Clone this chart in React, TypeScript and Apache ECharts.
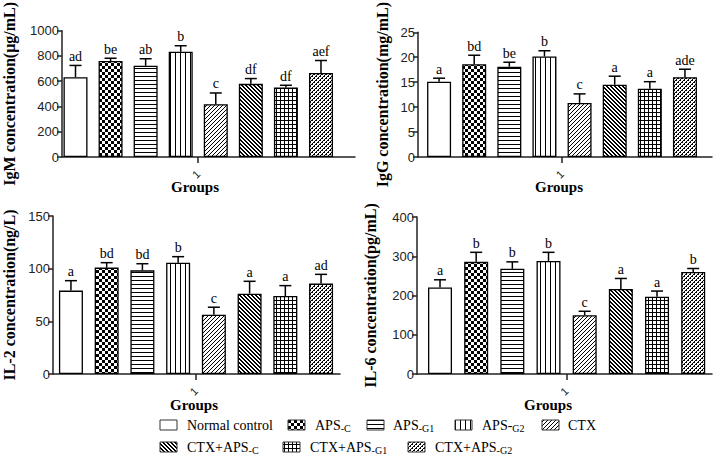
import React, { useEffect, useRef } from "react";
import * as echarts from "echarts";

// ---------------- data ----------------
const categories = [
  "Normal control",
  "APS-C",
  "APS-G1",
  "APS-G2",
  "CTX",
  "CTX+APS-C",
  "CTX+APS-G1",
  "CTX+APS-G2",
];
const positions = [1, 2, 3, 4, 5, 6, 7, 8];

const igmMean = [632, 760, 722, 833, 418, 579, 551, 665];
const igmErr = [93, 22, 56, 48, 89, 42, 17, 99];
const igmLetters = ["ad", "be", "ab", "b", "c", "df", "df", "aef"];

const iggMean = [15.1, 18.6, 18.1, 20.15, 10.85, 14.5, 13.7, 16.0];
const iggErr = [0.7, 1.8, 0.9, 1.15, 1.8, 1.7, 1.4, 1.6];
const iggLetters = ["a", "bd", "be", "b", "c", "a", "a", "ade"];

const il2Mean = [79.2, 101, 98.4, 105.7, 56.2, 76.3, 74.1, 85.8];
const il2Err = [9.4, 4.7, 6.3, 5.7, 7.2, 11.7, 9.8, 8.8];
const il2Letters = ["a", "bd", "bd", "b", "c", "a", "a", "ad"];

const il6Mean = [220.6, 285.7, 268, 288, 149.6, 216.4, 197, 260];
const il6Err = [19.4, 24.3, 17.7, 22, 10.2, 27, 14.3, 8.8];
const il6Letters = ["a", "b", "b", "b", "c", "a", "a", "b"];

const groupTickValue = [4.5];
const groupTickLabel = "1";
const xAxisTitle = "Groups";

// ---------------- patterns ----------------
type Px = (x: number, y: number, w?: number, h?: number) => void;
function makePattern(size: number, draw: (px: Px) => void): any {
  const c = document.createElement("canvas");
  c.width = size;
  c.height = size;
  const ctx = c.getContext("2d")!;
  ctx.fillStyle = "#fff";
  ctx.fillRect(0, 0, size, size);
  ctx.fillStyle = "#000";
  draw((x, y, w = 1, h = 1) => ctx.fillRect(x, y, w, h));
  return { image: c, repeat: "repeat", imageWidth: size, imageHeight: size };
}

function buildPatterns(): any[] {
  return [
    "#ffffff",
    makePattern(6, (px) => {
      px(0, 0, 3, 3);
      px(3, 3, 3, 3);
    }),
    makePattern(4, (px) => px(0, 0, 4, 1)),
    makePattern(5, (px) => px(0, 0, 1, 5)),
    makePattern(4, (px) => {
      for (let i = 0; i < 4; i++) px(i, 3 - i);
    }),
    makePattern(4, (px) => {
      for (let i = 0; i < 4; i++) {
        px(i, i);
        px((i + 1) % 4, i);
      }
    }),
    makePattern(4, (px) => {
      px(0, 0, 4, 1);
      px(0, 0, 1, 4);
    }),
    makePattern(4, (px) => {
      for (let i = 0; i < 4; i++) px(i, 3 - i);
      px(0, 0);
      px(2, 2);
    }),
  ];
}

// ---------------- panels ----------------
type Panel = {
  mean: number[];
  err: number[];
  letters: string[];
  yName: string;
  yMax: number;
  yInterval: number;
  grid: { left: number; top: number; width: number; height: number };
  xMin: number;
  xMax: number;
  nameGap: number;
};

const panels: Panel[] = [
  {
    mean: igmMean,
    err: igmErr,
    letters: igmLetters,
    yName: "IgM concentration(μg/mL)",
    yMax: 1000,
    yInterval: 200,
    grid: { left: 62, top: 6, width: 293, height: 151 },
    xMin: 0.615,
    xMax: 8.97,
    nameGap: 45,
  },
  {
    mean: iggMean,
    err: iggErr,
    letters: iggLetters,
    yName: "IgG concentration(mg/mL)",
    yMax: 25,
    yInterval: 5,
    grid: { left: 418, top: 6, width: 294, height: 151 },
    xMin: 0.4,
    xMax: 8.77,
    nameGap: 28,
  },
  {
    mean: il2Mean,
    err: il2Err,
    letters: il2Letters,
    yName: "IL-2 concentration(ng/L)",
    yMax: 150,
    yInterval: 50,
    grid: { left: 52, top: 216, width: 288, height: 158 },
    xMin: 0.498,
    xMax: 8.53,
    nameGap: 36,
  },
  {
    mean: il6Mean,
    err: il6Err,
    letters: il6Letters,
    yName: "IL-6 concentration(pg/mL)",
    yMax: 400,
    yInterval: 100,
    grid: { left: 417, top: 217, width: 295, height: 157 },
    xMin: 0.364,
    xMax: 8.52,
    nameGap: 39,
  },
];

const groupTitlePos = [
  [195, 187],
  [559, 187],
  [194, 405],
  [548, 405],
];

const legendItems = [
  { icon: [160, 425], text: [187, 425], main: "Normal control", sub: "" },
  { icon: [288, 425], text: [315, 425], main: "APS", sub: "-C" },
  { icon: [367, 425], text: [393, 425], main: "APS", sub: "-G1" },
  { icon: [455, 425], text: [482, 425], main: "APS-", sub: "G2" },
  { icon: [542, 425], text: [568, 425], main: "CTX", sub: "" },
  { icon: [160, 447], text: [187, 447], main: "CTX+APS", sub: "-C" },
  { icon: [283, 447], text: [310, 447], main: "CTX+APS", sub: "-G1" },
  { icon: [408, 447], text: [435, 447], main: "CTX+APS", sub: "-G2" },
];

const AXIS_COLOR = "#222";

export default function App() {
  const ref = useRef<HTMLDivElement>(null);

  useEffect(() => {
    if (!ref.current) return;
    const chart = echarts.init(ref.current, null, { renderer: "svg" });
    const patterns = buildPatterns();

    const grids: any[] = [];
    const xAxes: any[] = [];
    const yAxes: any[] = [];
    const series: any[] = [];

    panels.forEach((p, gi) => {
      grids.push({ ...p.grid, containLabel: false });
      xAxes.push({
        type: "value",
        gridIndex: gi,
        min: p.xMin,
        max: p.xMax,
        splitLine: { show: false },
        axisLine: { show: true, onZero: false, lineStyle: { color: AXIS_COLOR, width: 1.5 } },
        axisTick: {
          show: true,
          customValues: groupTickValue,
          length: 6,
          lineStyle: { color: AXIS_COLOR, width: 1.5 },
        },
        axisLabel: {
          show: true,
          customValues: groupTickValue,
          formatter: () => groupTickLabel,
          rotate: 45,
          margin: 15,
          fontFamily: "Liberation Sans",
          fontSize: 11,
          color: "#222",
        },
      });
      yAxes.push({
        type: "value",
        gridIndex: gi,
        min: 0,
        max: p.yMax,
        interval: p.yInterval,
        name: p.yName,
        nameLocation: "middle",
        nameGap: p.nameGap,
        nameTextStyle: {
          fontFamily: "Liberation Serif",
          fontWeight: "bold",
          fontSize: 16,
          color: "#000",
        },
        splitLine: { show: false },
        axisLine: { show: true, lineStyle: { color: AXIS_COLOR, width: 1.5 } },
        axisTick: { show: true, length: 5, lineStyle: { color: AXIS_COLOR, width: 1.5 } },
        axisLabel: {
          fontFamily: "Liberation Sans",
          fontSize: 13,
          color: "#222",
          margin: 3,
          formatter: (v: number) => String(v),
        },
      });
      series.push({
        type: "bar",
        xAxisIndex: gi,
        yAxisIndex: gi,
        barWidth: 24,
        data: positions.map((x, i) => ({
          value: [x, p.mean[i]],
          itemStyle: { color: patterns[i] },
        })),
        itemStyle: { borderColor: "#000", borderWidth: 1.3 },
      });
      const letters = p.letters;
      series.push({
        type: "custom",
        xAxisIndex: gi,
        yAxisIndex: gi,
        z: 5,
        data: positions.map((x, i) => [x, p.mean[i], p.err[i]]),
        renderItem: (params: any, api: any) => {
          const x = api.value(0);
          const m = api.value(1);
          const e = api.value(2);
          const b = api.coord([x, m]);
          const t = api.coord([x, m + e]);
          const half = 6;
          return {
            type: "group",
            children: [
              {
                type: "line",
                shape: { x1: b[0], y1: b[1], x2: t[0], y2: t[1] },
                style: { stroke: "#000", lineWidth: 1.5 },
              },
              {
                type: "line",
                shape: { x1: t[0] - half, y1: t[1], x2: t[0] + half, y2: t[1] },
                style: { stroke: "#000", lineWidth: 1.5 },
              },
              {
                type: "text",
                x: t[0],
                y: t[1] - 2,
                style: {
                  text: letters[params.dataIndex],
                  align: "center",
                  verticalAlign: "bottom",
                  fontFamily: "Liberation Serif",
                  fontSize: 14,
                  fill: "#000",
                },
              },
            ],
          };
        },
      });
    });

    const graphics: any[] = [];
    groupTitlePos.forEach(([x, y]) => {
      graphics.push({
        type: "text",
        x,
        y,
        style: {
          text: xAxisTitle,
          align: "center",
          verticalAlign: "middle",
          fontFamily: "Liberation Serif",
          fontWeight: "bold",
          fontSize: 15,
          fill: "#000",
        },
      });
    });

    legendItems.forEach((it, i) => {
      graphics.push({
        type: "rect",
        shape: { x: it.icon[0], y: it.icon[1] - 5, width: 17, height: 10 },
        style: { fill: patterns[i], stroke: "#333", lineWidth: 1 },
      });
      const txt = it.sub ? `{m|${it.main}}{s|${it.sub}}` : `{m|${it.main}}`;
      graphics.push({
        type: "text",
        x: it.text[0],
        y: it.text[1],
        style: {
          text: txt,
          align: "left",
          verticalAlign: "middle",
          fill: "#000",
          rich: {
            m: { fontFamily: "Liberation Serif", fontSize: 14, lineHeight: 16, fill: "#000" },
            s: {
              fontFamily: "Liberation Serif",
              fontSize: 10,
              lineHeight: 12,
              padding: [6, 0, 0, 0],
              fill: "#000",
            },
          },
        },
      });
    });

    chart.setOption({
      animation: false,
      backgroundColor: "#fff",
      grid: grids,
      xAxis: xAxes,
      yAxis: yAxes,
      series,
      graphic: graphics,
    });

    return () => chart.dispose();
  }, []);

  return (
    <div
      ref={ref}
      style={{ position: "fixed", left: 0, top: 0, width: 713, height: 461 }}
    />
  );
}
